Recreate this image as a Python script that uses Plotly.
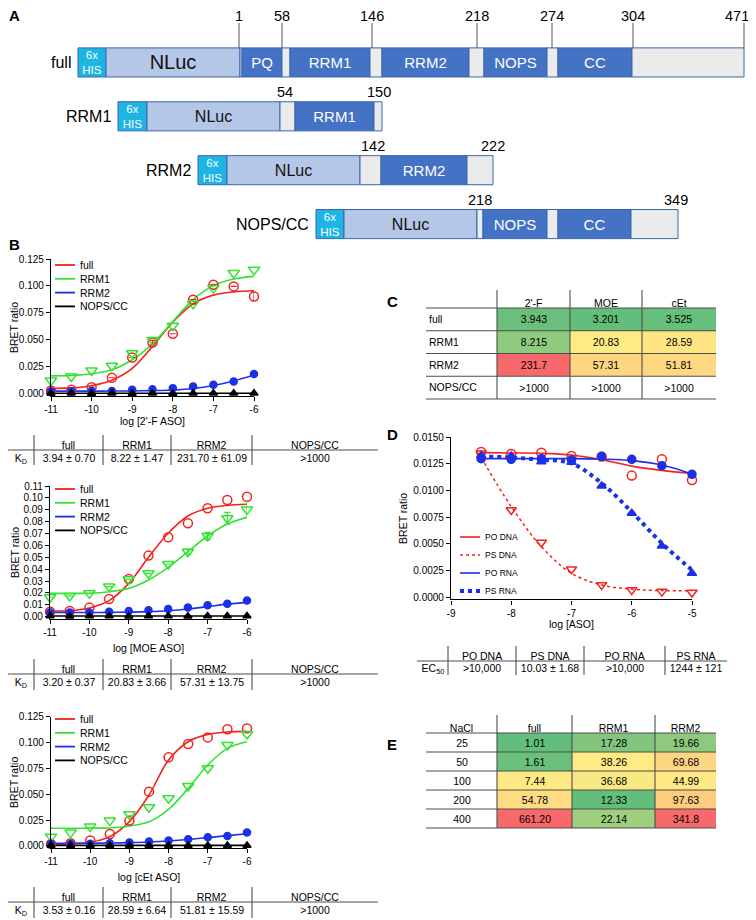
import plotly.graph_objects as go

W, H = 756, 920
OFF = 8  # the page body adds an 8px margin; shift content so it lands where the reference has it
FONT = 'Liberation Sans, Arial, sans-serif'
RED, GREEN, BLUE, BLACK = '#F2221E', '#33E333', '#1B30E8', '#000000'

# ---------------- A: construct maps (drawn row units) ----------------
constructs = ['full', 'RRM1', 'RRM2', 'NOPS/CC']
full_segs = [('his', 78, 106, '6x<br>HIS'), ('nluc', 106, 240, 'NLuc'), ('gap', 240, 242, ''),
             ('dom', 242, 282, 'PQ'), ('gap', 282, 290, ''), ('dom', 290, 370, 'RRM1'),
             ('gap', 370, 382, ''), ('dom', 382, 469, 'RRM2'), ('gap', 469, 484, ''),
             ('dom', 484, 547, 'NOPS'), ('gap', 547, 558, ''), ('dom', 558, 632, 'CC'),
             ('gap', 632, 744, '')]
rrm1_segs = [('his', 118, 147, '6x<br>HIS'), ('nluc', 147, 280, 'NLuc'), ('gap', 280, 295, ''),
             ('dom', 295, 374, 'RRM1'), ('gap', 374, 382, '')]
rrm2_segs = [('his', 198, 227, '6x<br>HIS'), ('nluc', 227, 360, 'NLuc'), ('gap', 360, 381, ''),
             ('dom', 381, 467, 'RRM2'), ('gap', 467, 493, '')]
nops_segs = [('his', 316, 344, '6x<br>HIS'), ('nluc', 344, 477, 'NLuc'), ('gap', 477, 483, ''),
             ('dom', 483, 547, 'NOPS'), ('gap', 547, 558, ''), ('dom', 558, 631, 'CC'),
             ('gap', 631, 678, '')]
full_res = [(239, '1'), (282, '58'), (372, '146'), (477, '218'), (552, '274'), (633, '304'), (744, '471')]
rrm1_res = [(285, '54'), (379, '150')]
rrm2_res = [(373, '142'), (493, '222')]
nops_res = [(480, '218'), (676, '349')]

# ---------------- B: BRET titrations ----------------
log_conc = [-11, -10.5, -10, -9.5, -9, -8.5, -8, -7.5, -7, -6.5, -6]
b_xticks = [-11, -10, -9, -8, -7, -6]

f2_full = [0.0031, 0.0037, 0.0062, 0.0149, 0.0337, 0.0475, 0.0557, 0.0873, 0.1012, 0.0996, 0.0903]
f2_full_err = [None, None, None, None, None, 0.002, None, None, None, None, 0.004]
f2_full_fit = [0.0050, 0.0055, 0.0075, 0.0125, 0.0235, 0.0440, 0.0665, 0.0835, 0.0915, 0.0945, 0.0955]
f2_rrm1 = [0.0124, 0.0161, 0.0217, 0.0260, 0.0377, 0.0500, 0.0631, 0.0835, 0.0980, 0.1120, 0.1150]
f2_rrm1_fit = [0.0167, 0.0170, 0.0186, 0.0223, 0.0316, 0.0464, 0.0671, 0.0873, 0.1003, 0.1064, 0.1089]
f2_rrm2 = [0.0025, 0.0025, 0.0026, 0.0027, 0.0037, 0.0043, 0.0053, 0.0068, 0.0084, 0.0115, 0.0183]
f2_rrm2_fit = [0.0025, 0.0025, 0.0025, 0.0026, 0.0027, 0.0030, 0.0036, 0.0050, 0.0078, 0.0120, 0.0175]
f2_nops = [0.0004, 0.0005, 0.0004, 0.0005, 0.0004, 0.0005, 0.0004, 0.0005, 0.0005, 0.0005, 0.0005]
f2_nops_fit = [0.0005, 0.0005, 0.0005, 0.0005, 0.0005, 0.0005, 0.0005, 0.0005, 0.0005, 0.0005, 0.0005]

moe_full = [0.0042, 0.0048, 0.0076, 0.0149, 0.0317, 0.0514, 0.0668, 0.0786, 0.0912, 0.0982, 0.1010]
moe_full_fit = [0.0048, 0.0050, 0.0073, 0.0135, 0.0280, 0.0500, 0.0702, 0.0847, 0.0912, 0.0937, 0.0946]
moe_rrm1 = [0.0163, 0.0174, 0.0196, 0.0253, 0.0314, 0.0365, 0.0443, 0.0547, 0.0679, 0.0828, 0.0903]
moe_rrm1_err = [None, None, None, None, None, None, None, 0.002, 0.003, 0.005, 0.007]
moe_rrm1_fit = [0.0196, 0.0196, 0.0197, 0.0210, 0.0238, 0.0309, 0.0415, 0.0547, 0.0679, 0.0780, 0.0836]
moe_rrm2 = [0.0034, 0.0034, 0.0035, 0.0042, 0.0048, 0.0053, 0.0065, 0.0076, 0.0095, 0.0109, 0.0135]
moe_rrm2_fit = [0.0035, 0.0035, 0.0035, 0.0036, 0.0038, 0.0042, 0.0050, 0.0064, 0.0084, 0.0105, 0.0120]
moe_nops = [0.0005, 0.0004, 0.0005, 0.0005, 0.0004, 0.0005, 0.0005, 0.0004, 0.0005, 0.0005, 0.0005]
moe_nops_fit = [0.0005, 0.0005, 0.0005, 0.0005, 0.0005, 0.0005, 0.0005, 0.0005, 0.0005, 0.0005, 0.0005]

cet_full = [0.0019, 0.0026, 0.0052, 0.0116, 0.0245, 0.0525, 0.0857, 0.0986, 0.1050, 0.1128, 0.1137]
cet_full_fit = [0.0019, 0.0022, 0.0035, 0.0090, 0.0235, 0.0493, 0.0831, 0.1008, 0.1079, 0.1102, 0.1108]
cet_rrm1 = [0.0090, 0.0129, 0.0187, 0.0245, 0.0306, 0.0374, 0.0461, 0.0580, 0.0751, 0.0976, 0.1082]
cet_rrm1_fit = [0.0171, 0.0171, 0.0172, 0.0174, 0.0193, 0.0235, 0.0354, 0.0557, 0.0783, 0.0944, 0.1008]
cet_rrm2 = [0.0019, 0.0020, 0.0022, 0.0026, 0.0032, 0.0042, 0.0052, 0.0064, 0.0084, 0.0097, 0.0129]
cet_rrm2_fit = [0.0025, 0.0025, 0.0026, 0.0028, 0.0032, 0.0038, 0.0048, 0.0062, 0.0080, 0.0100, 0.0118]
cet_nops = [0.0005, 0.0005, 0.0004, 0.0005, 0.0005, 0.0004, 0.0005, 0.0005, 0.0004, 0.0005, 0.0005]
cet_nops_fit = [0.0005, 0.0005, 0.0005, 0.0005, 0.0005, 0.0005, 0.0005, 0.0005, 0.0005, 0.0005, 0.0005]

kd_header = ['', 'full', 'RRM1', 'RRM2', 'NOPS/CC']
kd_2f = ['K<sub>D</sub>', '3.94 ± 0.70', '8.22 ± 1.47', '231.70 ± 61.09', '>1000']
kd_moe = ['K<sub>D</sub>', '3.20 ± 0.37', '20.83 ± 3.66', '57.31 ± 13.75', '>1000']
kd_cet = ['K<sub>D</sub>', '3.53 ± 0.16', '28.59 ± 6.64', '51.81 ± 15.59', '>1000']

# ---------------- C: KD summary ----------------
c_header = ['', "2'-F", 'MOE', 'cEt']
c_rows = ['full', 'RRM1', 'RRM2', 'NOPS/CC']
c_vals = [['3.943', '3.201', '3.525'],
          ['8.215', '20.83', '28.59'],
          ['231.7', '57.31', '51.81'],
          ['>1000', '>1000', '>1000']]
c_fill = [['#6AC07B', '#63BE7B', '#66BF7B'],
          ['#8FCB7E', '#FFEB84', '#FFE683'],
          ['#F8696B', '#FED580', '#FED880'],
          ['#FFFFFF', '#FFFFFF', '#FFFFFF']]

# ---------------- D: PO/PS competition ----------------
aso_conc = [-8.5, -8, -7.5, -7, -6.5, -6, -5.5, -5]
d_xticks = [-9, -8, -7, -6, -5]
po_dna = [0.01363, 0.01344, 0.01356, 0.01325, 0.01319, 0.01141, 0.01294, 0.01100]
po_dna_fit = [0.01356, 0.01353, 0.01350, 0.01334, 0.01290, 0.01230, 0.01190, 0.01160]
ps_dna = [0.01350, 0.00819, 0.00513, 0.00263, 0.00116, 0.00069, 0.00053, 0.00044]
ps_dna_fit = [0.01310, 0.00850, 0.00475, 0.00225, 0.00116, 0.00075, 0.00063, 0.00060]
po_rna = [0.01300, 0.01294, 0.01300, 0.01288, 0.01319, 0.01294, 0.01234, 0.01153]
po_rna_fit = [0.01300, 0.01300, 0.01300, 0.01300, 0.01295, 0.01281, 0.01240, 0.01156]
ps_rna = [0.01330, 0.01325, 0.01270, 0.01266, 0.01044, 0.00788, 0.00481, 0.00225]
ps_rna_fit = [0.01320, 0.01310, 0.01290, 0.01256, 0.01070, 0.00800, 0.00506, 0.00256]

ec_header = ['', 'PO DNA', 'PS DNA', 'PO RNA', 'PS RNA']
ec_vals = ['EC<sub>50</sub>', '>10,000', '10.03 ± 1.68', '>10,000', '1244 ± 121']

# ---------------- E: salt dependence ----------------
e_header = ['NaCl', 'full', 'RRM1', 'RRM2']
nacl = ['25', '50', '100', '200', '400']
e_full = ['1.01', '1.61', '7.44', '54.78', '661.20']
e_rrm1 = ['17.28', '38.26', '36.68', '12.33', '22.14']
e_rrm2 = ['19.66', '69.68', '44.99', '97.63', '341.8']
e_fill_full = ['#63BE7B', '#6BC07C', '#FFE984', '#FEDC81', '#F8696B']
e_fill_rrm1 = ['#82C57C', '#FFEB84', '#FAE883', '#63BE7B', '#9DCF7F']
e_fill_rrm2 = ['#8DCA7E', '#FED580', '#FFE984', '#FDCC7E', '#F8696B']


def px(x):
    return (x - OFF) / W


def py(y):
    return 1 - (y - OFF) / H


fig = go.Figure()
layout = {}

# ---- panel A ----
kind_fill = {'his': '#1EB4E4', 'nluc': '#B4C7E7', 'dom': '#4472C4', 'gap': '#EBEBEB'}
kind_tcol = {'his': 'white', 'nluc': '#111111', 'dom': 'white', 'gap': 'white'}
kind_tsize = {'his': 11.5, 'nluc': 16, 'dom': 15, 'gap': 10}
seg_rows = [full_segs, rrm1_segs, rrm2_segs, nops_segs]
res_rows = [full_res, rrm1_res, rrm2_res, nops_res]

sy, sbase, slen, scol, stxt, stcol, stsize = [], [], [], [], [], [], []
for name, segs in zip(constructs, seg_rows):
    for kind, a, b, label in segs:
        sy.append(name)
        sbase.append(a)
        slen.append(b - a)
        scol.append(kind_fill[kind])
        stxt.append(label)
        stcol.append(kind_tcol[kind])
        stsize.append(20 if (name == 'full' and kind == 'nluc') else kind_tsize[kind])

fig.add_trace(go.Bar(orientation='h', y=sy, x=slen, base=sbase, width=0.54,
                     marker=dict(color=scol, line=dict(color='#3A64B0', width=1)),
                     text=stxt, textposition='inside', insidetextanchor='middle', textangle=0,
                     constraintext='none',
                     textfont=dict(color=stcol, size=stsize, family=FONT),
                     xaxis='x5', yaxis='y5', showlegend=False, hoverinfo='skip'))
layout['xaxis5'] = dict(domain=[0, 1], range=[OFF, W + OFF], visible=False, anchor='y5',
                        fixedrange=True)
layout['yaxis5'] = dict(domain=[py(251), py(35.5)], type='category', categoryorder='array',
                        categoryarray=constructs, range=[3.5, -0.5], visible=False,
                        anchor='x5', fixedrange=True)

for name, segs, res in zip(constructs, seg_rows, res_rows):
    fig.add_annotation(x=segs[0][1], y=name, xref='x5', yref='y5', text=name, showarrow=False,
                       xanchor='right', yanchor='middle', xshift=-5, font=dict(size=16))
    lift = 46 if name == 'full' else 24
    for pos, lab in res:
        # the last number sits against the right edge, so anchor it by its right side
        edge = pos == res[-1][0] and name == 'full'
        fig.add_annotation(x=pos, y=name, xref='x5', yref='y5', text=lab, showarrow=False,
                           xanchor='right' if edge else 'center', xshift=7 if edge else 0,
                           yanchor='middle', yshift=lift, font=dict(size=14.5))
for pos, lab in full_res:
    fig.add_shape(type='line', xref='x5', yref='paper', x0=pos, x1=pos, y0=py(48), y1=py(23),
                  line=dict(color='#555555', width=1))

# ---- dose response panels ----
axis_style = dict(showline=True, linecolor='black', linewidth=1.2, ticks='outside', ticklen=4,
                  tickwidth=1.2, tickcolor='black', showgrid=False, zeroline=False,
                  automargin=False, tickfont=dict(size=10, color='black'), fixedrange=True)

b_look = {'full': (RED, 'circle-open', 9), 'RRM1': (GREEN, 'triangle-down-open', 10),
          'RRM2': (BLUE, 'circle', 7), 'NOPS/CC': (BLACK, 'triangle-up', 7)}
b_sets = [
    ('x', 'y', {'full': (f2_full, f2_full_err, f2_full_fit), 'RRM1': (f2_rrm1, None, f2_rrm1_fit),
                'RRM2': (f2_rrm2, None, f2_rrm2_fit), 'NOPS/CC': (f2_nops, None, f2_nops_fit)}),
    ('x2', 'y2', {'full': (moe_full, None, moe_full_fit), 'RRM1': (moe_rrm1, moe_rrm1_err, moe_rrm1_fit),
                  'RRM2': (moe_rrm2, None, moe_rrm2_fit), 'NOPS/CC': (moe_nops, None, moe_nops_fit)}),
    ('x3', 'y3', {'full': (cet_full, None, cet_full_fit), 'RRM1': (cet_rrm1, None, cet_rrm1_fit),
                  'RRM2': (cet_rrm2, None, cet_rrm2_fit), 'NOPS/CC': (cet_nops, None, cet_nops_fit)}),
]
for xa, ya, sets in b_sets:
    for name, (pts, err, fit) in sets.items():
        fig.add_trace(go.Scatter(x=log_conc, y=fit, mode='lines', xaxis=xa, yaxis=ya,
                                 line=dict(color=b_look[name][0], width=1.6, shape='spline'),
                                 showlegend=False, hoverinfo='skip'))
    for name, (pts, err, fit) in sets.items():
        col, sym, size = b_look[name]
        eb = dict(type='data', array=err, color=col, thickness=1.2, width=3) if err else None
        fig.add_trace(go.Scatter(x=log_conc, y=pts, mode='markers', xaxis=xa, yaxis=ya,
                                 marker=dict(color=col, symbol=sym, size=size,
                                             line=dict(color=col, width=1.5)),
                                 error_y=eb, cliponaxis=False, showlegend=False, name=name))

b_yticks_a = [0, 0.025, 0.05, 0.075, 0.1, 0.125]
b_yticks_b = [0, 0.01, 0.02, 0.03, 0.04, 0.05, 0.06, 0.07, 0.08, 0.09, 0.10, 0.11]
b_axes = [
    ('', (51, 254), (396, 259), [-0.002, 0.125], b_yticks_a, '.3f', "log [2'-F ASO]", 3),
    ('2', (50, 247), (619, 486), [-0.002, 0.11], b_yticks_b, '.2f', 'log [MOE ASO]', 7),
    ('3', (51, 247), (848, 716.7), [-0.002, 0.125], b_yticks_a, '.3f', 'log [cEt ASO]', 7),
]
for n, (x0, x1), (yb, yt), yr, yticks, fmt, xtitle, stand in b_axes:
    layout['xaxis' + n] = dict(axis_style, domain=[px(x0), px(x1)], range=[-11, -6],
                               anchor='y' + n, tickvals=b_xticks, ticktext=[str(v) for v in b_xticks],
                               title=dict(text=xtitle, font=dict(size=10.5), standoff=stand))
    layout['yaxis' + n] = dict(axis_style, domain=[py(yb), py(yt)], range=yr, anchor='x' + n,
                               tickvals=yticks, tickformat=fmt,
                               title=dict(text='BRET ratio', font=dict(size=10.5), standoff=1))

# panel D
d_sets = [(po_dna, po_dna_fit, RED, 'circle-open', 9, 'solid', 1.6),
          (ps_dna, ps_dna_fit, RED, 'triangle-down-open', 9, 'dot', 1.5),
          (po_rna, po_rna_fit, BLUE, 'circle', 8, 'solid', 1.6),
          (ps_rna, ps_rna_fit, BLUE, 'triangle-up', 8, 'dot', 4)]
for pts, fit, col, sym, size, dash, lw in d_sets:
    fig.add_trace(go.Scatter(x=aso_conc, y=fit, mode='lines', xaxis='x4', yaxis='y4',
                             line=dict(color=col, width=lw, dash=dash, shape='spline'),
                             showlegend=False, hoverinfo='skip'))
for pts, fit, col, sym, size, dash, lw in d_sets:
    fig.add_trace(go.Scatter(x=aso_conc, y=pts, mode='markers', xaxis='x4', yaxis='y4',
                             marker=dict(color=col, symbol=sym, size=size, line=dict(color=col, width=1.5)),
                             cliponaxis=False, showlegend=False))
d_yticks = [0, 0.0025, 0.005, 0.0075, 0.01, 0.0125, 0.015]
layout['xaxis4'] = dict(axis_style, domain=[px(451), px(692)], range=[-9, -5], anchor='y4',
                        tickvals=d_xticks, ticktext=[str(v) for v in d_xticks],
                        title=dict(text='log [ASO]', font=dict(size=10.5), standoff=3))
layout['yaxis4'] = dict(axis_style, domain=[py(599.4), py(437.3)], range=[-0.0002, 0.015],
                        anchor='x4', tickvals=d_yticks, tickformat='.4f',
                        title=dict(text='BRET ratio', font=dict(size=10.5), standoff=3))


# ---- legend keys drawn by hand (tight row spacing) ----
def key(x0, y, color, dash, width, label, size):
    fig.add_shape(type='line', xref='paper', yref='paper', x0=px(x0), x1=px(x0 + 20),
                  y0=py(y), y1=py(y), line=dict(color=color, width=width, dash=dash))
    fig.add_annotation(xref='paper', yref='paper', x=px(x0 + 23), y=py(y), text=label,
                       showarrow=False, xanchor='left', yanchor='middle', font=dict(size=size))


for top in (265, 489, 719):
    for i, name in enumerate(b_look):
        key(55, top + i * 13.8, b_look[name][0], 'solid', 1.8, name, 10.5)
for i, (lab, st) in enumerate(zip(['PO DNA', 'PS DNA', 'PO RNA', 'PS RNA'], d_sets)):
    key(460, 537 + i * 18, st[2], st[5], st[6], lab, 8.5)


# ---- tables ----
def add_table(n, edges, head_top, body_top, body_bot, header, rows, cells, fills,
              inside_labels=False, all_rules=True):
    heat_edges = edges[1:] if inside_labels else edges
    palette = sorted({c for r in fills for c in r})
    k = len(palette)
    scale = []
    for i, c in enumerate(palette):
        scale += [[i / k, c], [(i + 1) / k, c]]
    z = [[palette.index(c) + 0.5 for c in r] for r in fills]
    fig.add_trace(go.Heatmap(x=heat_edges, y=rows, z=z, text=cells, texttemplate='%{text}',
                             textfont=dict(size=10.5, color='black', family=FONT),
                             colorscale=scale, zmin=0, zmax=k, showscale=False,
                             hoverinfo='skip', xaxis=f'x{n}', yaxis=f'y{n}'))
    centers = [(a + b) / 2 for a, b in zip(edges[:-1], edges[1:])]
    layout[f'xaxis{n}'] = dict(domain=[px(edges[0]), px(edges[-1])], range=[edges[0], edges[-1]],
                               anchor=f'y{n}', side='top', tickvals=centers, ticktext=header,
                               ticks='', showline=False, showgrid=False, zeroline=False,
                               automargin=False, ticklabelstandoff=-2,
                               tickfont=dict(size=10.5, color='black'), fixedrange=True)
    layout[f'yaxis{n}'] = dict(domain=[py(body_bot), py(body_top)], type='category',
                               autorange='reversed', anchor=f'x{n}', showgrid=False,
                               zeroline=False, showline=False, ticks='', automargin=False,
                               showticklabels=inside_labels, ticklabelposition='inside',
                               tickfont=dict(size=10.5, color='black'), fixedrange=True)
    rule = dict(color='#4D4D4D', width=1.1)
    nr = len(rows)
    ys = [body_top + i * (body_bot - body_top) / nr for i in range(nr + 1)] if all_rules else [body_top]
    for y in ys:
        fig.add_shape(type='line', xref='paper', yref='paper', x0=px(edges[0]), x1=px(edges[-1]),
                      y0=py(y), y1=py(y), line=rule, layer='above')
    for x in edges[1:-1]:
        fig.add_shape(type='line', xref='paper', yref='paper', x0=px(x), x1=px(x),
                      y0=py(head_top), y1=py(body_bot), line=rule, layer='above')


white5 = [['#FFFFFF'] * 5]
kd_edges = [8, 34, 103, 171, 252, 378]
add_table(8, kd_edges, 435, 450, 465, kd_header, ['KD'], [kd_2f], white5, all_rules=False)
add_table(9, kd_edges, 659, 674, 690, kd_header, ['KD'], [kd_moe], white5, all_rules=False)
add_table(10, kd_edges, 887, 902, 918, kd_header, ['KD'], [kd_cet], white5, all_rules=False)
add_table(11, [417, 448, 516, 584, 665, 727], 646, 661, 675, ec_header, ['EC'], [ec_vals],
          white5, all_rules=False)
add_table(6, [426, 497, 570, 642, 716], 290, 308, 399, c_header, c_rows, c_vals, c_fill,
          inside_labels=True)
e_cells = [list(r) for r in zip(nacl, e_full, e_rrm1, e_rrm2)]
e_fills = [['#FFFFFF', a, b, c] for a, b, c in zip(e_fill_full, e_fill_rrm1, e_fill_rrm2)]
add_table(7, [426, 497, 572, 655, 716], 715, 733, 828, e_header, nacl, e_cells, e_fills)

# ---- panel letters ----
for lab, x, y in [('A', 14, 15), ('B', 14, 244), ('C', 392, 301), ('D', 392, 434), ('E', 392, 744)]:
    fig.add_annotation(xref='paper', yref='paper', x=px(x), y=py(y), text=f'<b>{lab}</b>',
                       showarrow=False, xanchor='center', yanchor='middle', font=dict(size=15))

fig.update_layout(template='none', width=W, height=H, margin=dict(l=0, r=0, t=0, b=0, pad=0),
                  paper_bgcolor='white', plot_bgcolor='white', barmode='overlay',
                  showlegend=False, font=dict(family=FONT, color='black', size=10.5),
                  **layout)
fig.write_html('out.html')
